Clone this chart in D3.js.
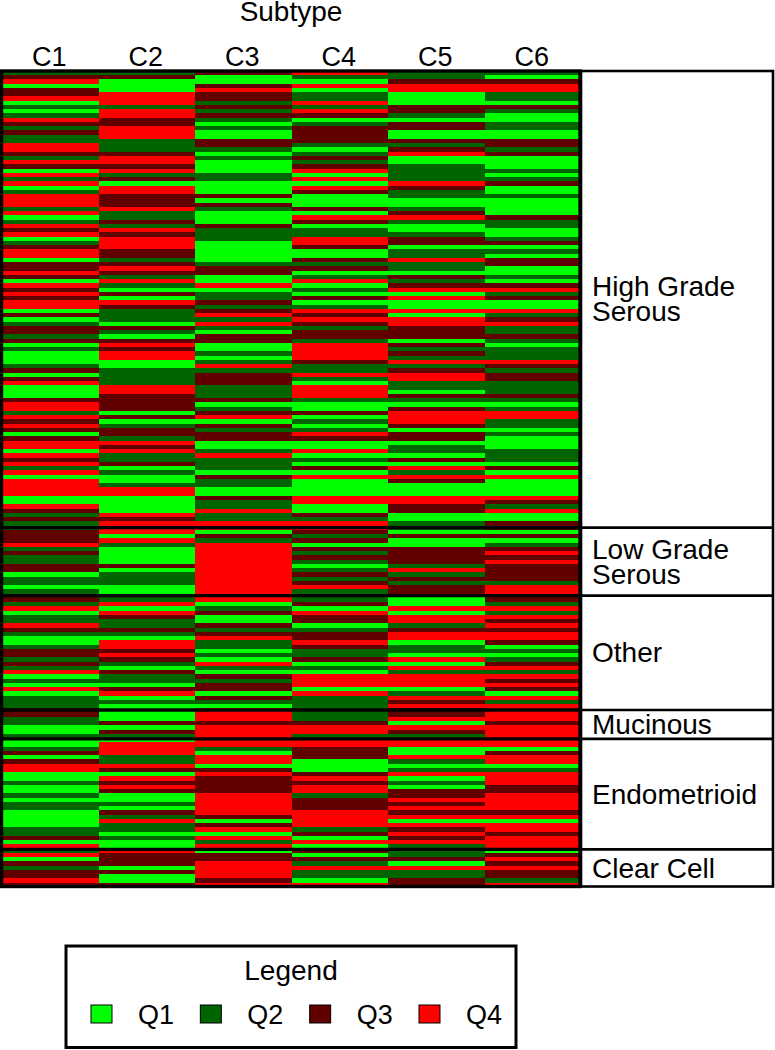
<!DOCTYPE html>
<html><head><meta charset="utf-8">
<script src="https://cdn.jsdelivr.net/npm/d3@7"></script>
<style>html,body{margin:0;padding:0;background:#fff}svg{display:block}text{font-family:"Liberation Sans",Arial,sans-serif;fill:#000}</style>
</head><body><div id="chart"></div>
<script>
const subtypes = ["C1","C2","C3","C4","C5","C6"];
const quartiles = ["Q1","Q2","Q3","Q4"];
const quartileColors = ["#00ff00","#006400","#600000","#ff0000"];
const histologies = [["High Grade","Serous"],["Low Grade","Serous"],["Other"],["Mucinous"],["Endometrioid"],["Clear Cell"]];
const histologyEnds = [107.5,123.5,150.4,157.2,183.2,192];

const valuesC1 = [2,3,4,1,3,3,4,1,2,1,2,4,3,2,3,2,2,4,4,3,2,4,3,1,4,2,4,1,2,4,
4,4,2,4,1,2,4,3,4,1,2,3,4,4,1,3,3,4,3,1,4,3,4,3,4,4,1,3,1,2,3,3,2,
3,1,2,1,1,1,2,3,1,3,4,1,1,1,3,4,4,2,4,3,4,3,1,3,4,4,1,4,3,4,2,4,1,
4,4,4,4,1,1,4,3,2,3,2,2,
3,3,3,4,2,3,2,2,3,3,1,2,2,1,2,
3,3,2,4,1,2,
2,4,3,2,1,1,2,3,3,2,3,2,4,1,2,1,4,1,2,2,2,3,3,2,2,1,1,2,1,1,2,3,1,
3,4,4,1,1,2,1,1,2,1,2,2,1,1,1,1,2,2,3,1,4,2,4,1,3,2,3,3,4,3];
const valuesC2 = [2,3,1,1,1,4,4,4,2,4,4,3,3,4,4,4,2,2,2,3,4,4,3,4,2,3,1,4,4,3,
3,3,4,2,2,3,2,4,3,4,4,4,3,3,2,3,4,3,2,4,2,1,3,1,4,3,2,2,2,1,3,2,1,
3,4,3,4,4,1,1,2,2,2,2,4,4,3,3,3,3,1,3,1,2,3,3,2,4,3,4,2,2,3,1,2,1,
1,2,4,4,1,1,1,1,4,3,4,4,
4,1,4,2,1,1,1,1,3,1,2,2,2,1,1,
2,2,4,1,4,3,
2,2,3,2,1,4,4,3,4,3,2,1,3,2,2,1,3,4,1,2,1,1,1,1,3,1,3,2,1,4,4,4,2,
2,4,3,1,4,3,4,3,1,1,2,1,3,2,4,2,2,1,2,1,1,4,3,3,3,1,3,1,1,3];
const valuesC3 = [3,1,1,3,4,3,3,2,3,2,3,2,1,2,1,1,3,3,2,1,2,1,1,1,2,2,1,1,1,3,
1,3,2,1,1,1,3,2,2,2,1,1,1,1,1,2,3,3,1,1,4,1,2,2,3,2,3,4,2,4,2,1,3,
3,1,1,2,1,2,4,2,3,3,3,2,2,2,3,1,2,3,4,1,3,2,3,3,1,1,2,4,2,2,2,1,3,
2,2,1,1,3,2,2,4,2,2,4,4,
1,3,2,4,4,4,4,4,4,4,4,4,4,4,4,
4,4,1,2,3,1,
1,3,2,3,4,2,2,1,2,1,4,2,1,3,2,3,3,1,3,2,1,4,4,4,3,4,4,4,4,4,2,1,4,
4,1,3,4,3,3,3,3,4,4,4,4,4,3,1,3,4,1,4,2,4,1,3,3,4,4,4,4,3,4];
const valuesC4 = [4,2,1,4,1,2,2,4,2,4,3,1,2,3,3,3,3,2,1,2,3,2,3,4,1,4,1,4,3,1,
1,1,3,1,4,3,1,2,2,4,4,3,1,1,3,2,3,1,2,4,1,2,1,3,1,2,4,3,4,3,2,3,3,
2,4,4,4,4,3,2,2,4,2,1,4,4,4,2,1,1,3,1,2,1,2,4,3,1,1,4,1,2,1,3,1,4,
1,1,1,1,4,4,1,1,3,2,4,4,
3,2,3,1,3,2,3,2,1,2,3,2,3,4,2,
2,2,3,1,4,3,
3,1,2,3,3,4,3,2,2,3,1,2,1,4,4,4,1,4,2,2,2,2,2,2,3,4,4,2,4,4,3,3,3,
1,1,1,3,4,3,4,4,2,3,3,3,4,4,4,4,2,3,1,4,1,3,1,3,2,4,2,2,1,4];
const valuesC5 = [2,2,3,4,4,1,1,1,3,3,2,1,3,3,1,1,3,2,3,4,1,1,2,2,2,2,4,3,2,2,
1,1,2,3,4,2,1,1,2,3,3,1,2,2,4,2,2,1,3,2,3,4,1,4,1,1,4,1,4,4,3,3,3,
1,3,2,3,2,4,2,3,4,4,2,2,1,3,2,1,3,4,4,4,3,1,3,3,1,2,2,1,3,1,4,2,4,
3,1,1,1,4,4,3,3,1,1,2,2,
1,3,1,1,3,3,3,3,2,4,2,3,2,3,3,
1,1,1,4,1,4,
4,2,3,4,4,1,2,2,1,4,1,4,2,4,4,4,1,2,4,3,4,3,3,4,1,4,3,2,4,4,1,1,4,
2,1,2,4,1,2,1,3,3,4,3,4,3,4,1,4,3,4,3,4,2,2,2,3,1,4,2,2,3,3];
const valuesC6 = [2,1,3,4,4,2,2,1,3,2,1,1,2,2,1,1,3,3,2,3,1,1,1,2,1,2,3,1,1,2,
1,1,1,1,3,2,2,1,1,2,3,1,2,1,3,3,1,1,2,1,3,4,2,3,1,1,4,2,3,4,2,2,3,
2,1,2,2,2,4,3,2,3,3,2,2,2,3,2,1,2,4,4,2,2,1,2,1,1,1,2,2,2,1,3,1,4,
1,1,1,1,4,3,2,4,1,1,3,3,
1,3,1,2,3,4,3,4,3,3,3,3,2,4,4,
3,3,2,4,2,4,
3,4,3,4,4,3,1,2,1,2,3,4,2,4,3,4,3,1,4,2,4,4,4,4,3,4,4,4,4,4,1,3,4,
4,1,2,4,4,4,3,3,4,4,4,4,3,4,1,4,4,3,4,4,4,1,3,4,3,4,3,3,2,4];
const columns = [valuesC1,valuesC2,valuesC3,valuesC4,valuesC5,valuesC6];

const W=775,H=1050;
const svg=d3.select("#chart").append("svg").attr("width",W).attr("height",H);
const rowCount=valuesC1.length;
const x=d3.scaleBand().domain(subtypes).range([2,581]);
const y=d3.scaleBand().domain(d3.range(rowCount)).range([70.75,886.75]);
const yEdge=d3.scaleLinear().domain([0,rowCount]).range([70.75,886.75]);
const color=d3.scaleOrdinal().domain([1,2,3,4]).range(quartileColors);

const cols=svg.append("g").selectAll("g").data(columns).join("g");
cols.selectAll("rect").data((d,i)=>d.map((v,r)=>({v,r,c:subtypes[i]}))).join("rect")
  .attr("x",d=>x(d.c)).attr("y",d=>y(d.r))
  .attr("width",x.bandwidth()).attr("height",y.bandwidth())
  .attr("fill",d=>color(d.v)).attr("shape-rendering","crispEdges");

// header
svg.append("text").attr("x",291).attr("y",21).attr("text-anchor","middle").attr("font-size",28).text("Subtype");
svg.append("g").selectAll("text").data(subtypes).join("text")
  .attr("x",d=>x(d)+x.bandwidth()/2-1).attr("y",66).attr("text-anchor","middle").attr("font-size",27).text(d=>d);

// side panel frame and separators
const sep=svg.append("g");
sep.selectAll("line").data(histologyEnds.slice(0,-1)).join("line")
  .attr("x1",0).attr("x2",581).attr("y1",d=>yEdge(d)).attr("y2",d=>yEdge(d))
  .attr("stroke","#000").attr("stroke-width",3.4);
sep.selectAll("line.s").data(histologyEnds.slice(0,-1)).join("line").attr("class","s")
  .attr("x1",581).attr("x2",773).attr("y1",d=>yEdge(d)).attr("y2",d=>yEdge(d))
  .attr("stroke","#000").attr("stroke-width",2.6);
svg.append("rect").attr("x",1.5).attr("y",71).attr("width",578.5).attr("height",815.5)
  .attr("fill","none").attr("stroke","#000").attr("stroke-width",3.4);
svg.append("rect").attr("x",581).attr("y",71).attr("width",192).attr("height",815.5)
  .attr("fill","none").attr("stroke","#000").attr("stroke-width",2.6);

// histology labels
const starts=[0,...histologyEnds.slice(0,-1)];
const lab=svg.append("g").selectAll("text").data(histologies).join("text")
  .attr("font-size",28);
lab.each(function(lines,i){
  const mid=(yEdge(starts[i])+yEdge(histologyEnds[i]))/2;
  const t=d3.select(this);
  lines.forEach((s,j)=>{
    t.append("tspan").attr("x",592)
     .attr("y",mid+9.5+(j-(lines.length-1)/2)*25)
     .text(s);
  });
});

// legend
svg.append("rect").attr("x",66).attr("y",946).attr("width",450).attr("height",101.5)
  .attr("fill","#fff").attr("stroke","#000").attr("stroke-width",3);
svg.append("text").attr("x",291).attr("y",980).attr("text-anchor","middle").attr("font-size",28).text("Legend");
const lx=d3.scalePoint().domain(quartiles).range([91,419]);
svg.append("g").selectAll("rect").data(quartiles).join("rect")
  .attr("x",d=>lx(d)).attr("y",1005).attr("width",21).attr("height",18)
  .attr("fill",(d,i)=>quartileColors[i]).attr("stroke","#000").attr("stroke-width",1);
svg.append("g").selectAll("text").data(quartiles).join("text")
  .attr("x",d=>lx(d)+47).attr("y",1024).attr("font-size",27).text(d=>d);
</script></body></html>
